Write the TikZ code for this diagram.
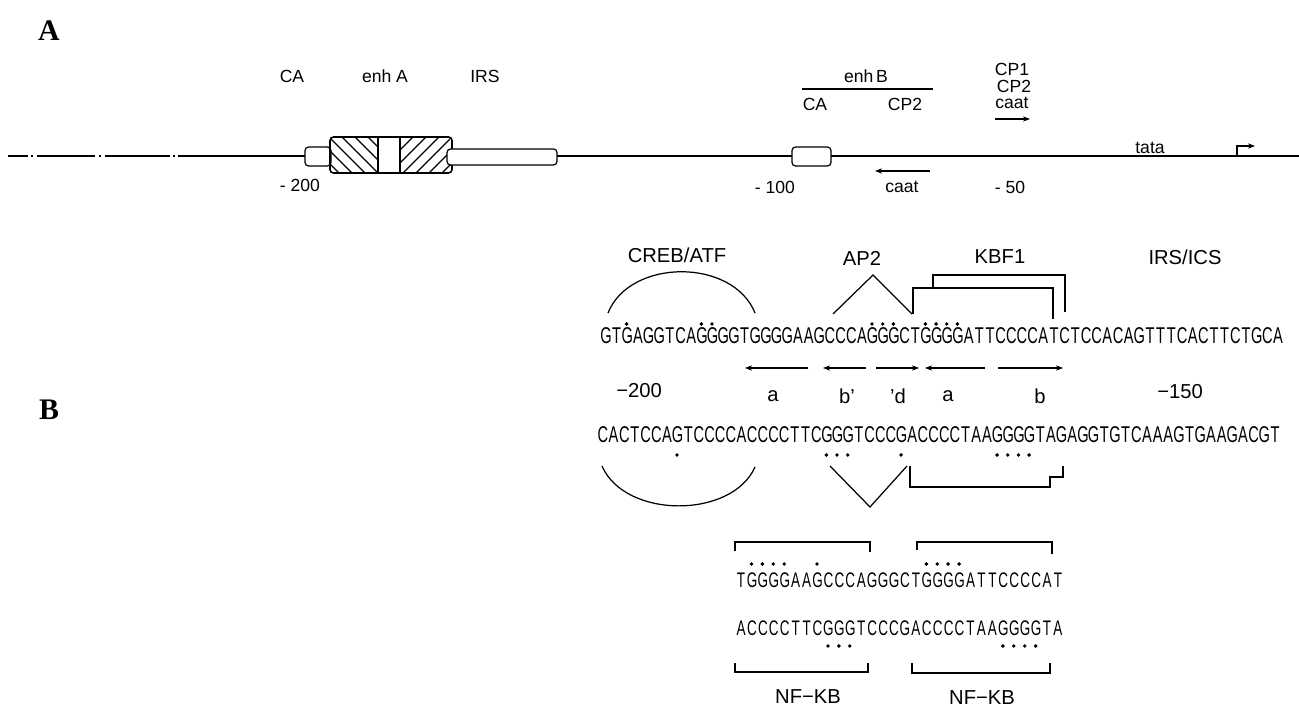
\documentclass[tikz,border=0pt]{standalone}
\usepackage{fontspec}
\setmainfont{Liberation Sans}
\newfontfamily\seqfont[FakeStretch=0.64]{Liberation Sans}
\newfontfamily\panelfont{Liberation Serif}
\usetikzlibrary{arrows.meta}

% one letter per fixed cell, so the dots sit over their bases
\newlength\seqpitch
\def\seqloop#1{\ifx#1\relax\else\makebox[\seqpitch]{#1}\expandafter\seqloop\fi}
\newcommand\dnaline[2]{\setlength\seqpitch{#1}\seqloop#2\relax}

\begin{document}
\begin{tikzpicture}[x=0.02cm,y=-0.02cm,line width=0.7pt,>={Stealth[length=4pt,width=3pt]},
  panel/.style={font=\panelfont\bfseries\fontsize{17}{17}\selectfont,inner sep=0},
  lblA/.style={font=\fontsize{10}{11}\selectfont,inner sep=0},
  lblB/.style={font=\fontsize{11.5}{12}\selectfont,inner sep=0},
  seq/.style={font=\seqfont\fontsize{13}{14}\selectfont,inner sep=0,anchor=base west},
  blk/.style={font=\seqfont\fontsize{12}{13}\selectfont,inner sep=0,anchor=base west}]
  \useasboundingbox (0,0) rectangle (1299,709);

  % panel A: map of the region
  \node[panel] (lblA) at (49,31) {A};
  \draw (8,156) -- (28,156) (31,156) -- (33,156) (37,156) -- (95,156) (99,156) -- (101,156)
        (105,156) -- (170,156) (173,156) -- (175,156) (178,156) -- (305,156);
  \draw[rounded corners=2pt] (305,147) rectangle (331,166);
  \begin{scope}
    \clip (330,137) rectangle (378,173);
    \foreach \k in {290,303,...,380} \draw (\k,137) -- ++(36,36);
  \end{scope}
  \begin{scope}
    \clip (400,137) rectangle (450,173);
    \foreach \k in {364,377,...,450} \draw (\k,173) -- ++(36,-36);
  \end{scope}
  \draw[rounded corners=2pt,line width=0.9pt] (330,137) rectangle (452,173);
  \draw (378,137) -- (378,173) (400,137) -- (400,173);
  \draw[fill=white,rounded corners=2pt] (447,149) rectangle (557,165);
  \draw (557,156) -- (792,156);
  \draw[rounded corners=2pt] (792,147) rectangle (831,166);
  \draw (831,156) -- (1299,156);
  \draw[->] (1237,156) -- (1237,146) -- (1255,146);

  \node[lblA] (caA) at (292,76) {CA};
  \node[lblA] (enhA) at (385,76) {enh A};
  \node[lblA] (irs) at (485,76) {IRS};
  \node[lblA] (m200) at (300,185) {- 200};
  \node[lblA] (enhB) at (866,76) {enh\,B};
  \draw (802,89) -- (933,89);
  \node[lblA] (caB) at (815,104) {CA};
  \node[lblA] (cp2a) at (905,104) {CP2};
  \draw[->] (930,171) -- (875,171);
  \node[lblA] (caatA) at (902,187) {caat};
  \node[lblA] (m100) at (775,187) {- 100};
  \node[lblA] (cp1) at (1012,69) {CP1};
  \node[lblA] (cp2b) at (1014,86) {CP2};
  \node[lblA] (caatB) at (1012,103) {caat};
  \draw[->] (995,119) -- (1030,119);
  \node[lblA] (m50) at (1010,187) {- 50};
  \node[lblA] (tata) at (1150,148) {tata};

  % panel B: sequence
  \node[panel] (lblB) at (49,410) {B};
  \node[lblB] (creb) at (677,255) {CREB/ATF};
  \node[lblB] (ap2) at (862,258) {AP2};
  \node[lblB] (kbf) at (1000,257) {KBF1};
  \node[lblB] (ircs) at (1185,257) {IRS/ICS};

  \draw (608,313) .. controls (630,258) and (733,258) .. (755,313);
  \draw (833,314) -- (873,275) -- (912,314);
  \draw (913,314) -- (913,288) -- (1053,288) -- (1053,319);
  \draw (933,288) -- (933,275) -- (1065,275) -- (1065,312);

  \node[seq] (topstrand) at (600,344) {\dnaline{0.2134cm}{GTGAGGTCAGGGGTGGGGAAGCCCAGGGCTGGGGATTCCCCATCTCCACAGTTTCACTTCTGCA}};
  \foreach \i in {2,9,10,25,26,27,30,31,32,33} \fill (605.3+10.67*\i,324) circle (1.1pt);

  \draw[->] (808,368) -- (745,368);
  \draw[->] (866,368) -- (823,368);
  \draw[->] (876,368) -- (919,368);
  \draw[->] (985,368) -- (925,368);
  \draw[->] (998,368) -- (1063,368);
  \node[lblB] (ra) at (773,396) {a};
  \node[lblB] (rb) at (847,396) {b'};
  \node[lblB] (rd) at (898,396) {'d};
  \node[lblB] (ra2) at (948,396) {a};
  \node[lblB] (rb2) at (1040,396) {b};
  \node[lblB] (p200) at (639,391) {−200};
  \node[lblB] (p150) at (1180,392) {−150};

  \node[seq] (botstrand) at (597,443) {\dnaline{0.2134cm}{CACTCCAGTCCCCACCCCTTCGGGTCCCGACCCCTAAGGGGTAGAGGTGTCAAAGTGAAGACGT}};
  \foreach \i in {7,21,22,23,28,37,38,39,40} \fill (602.3+10.67*\i,455) circle (1.1pt);

  \draw (602,466) .. controls (625,519) and (732,519) .. (755,467);
  \draw (830,466) -- (870,507) -- (907,466);
  \draw (910,466) -- (910,487) -- (1050,487) -- (1050,477) -- (1063,477) -- (1063,466);

  % NF-KB sites
  \draw (735,551) -- (735,542) -- (870,542) -- (870,552);
  \draw (917,550) -- (917,542) -- (1052,542) -- (1052,554);
  \foreach \i in {1,2,3,4,7,17,18,19,20} \fill (740.5+10.93*\i,564) circle (1.1pt);
  \node[blk] (blkA) at (735,587) {\dnaline{0.2186cm}{TGGGGAAGCCCAGGGCTGGGGATTCCCCAT}};
  \node[blk] (blkB) at (735,635) {\dnaline{0.2186cm}{ACCCCTTCGGGTCCCGACCCCTAAGGGGTA}};
  \foreach \i in {8,9,10,24,25,26,27} \fill (740.5+10.93*\i,646) circle (1.1pt);
  \draw (735,663) -- (735,672) -- (868,672) -- (868,663);
  \draw (912,663) -- (912,673) -- (1050,673) -- (1050,663);
  \node[lblB] (nfa) at (808,697) {NF−KB};
  \node[lblB] (nfb) at (982,698) {NF−KB};
\end{tikzpicture}
\end{document}
